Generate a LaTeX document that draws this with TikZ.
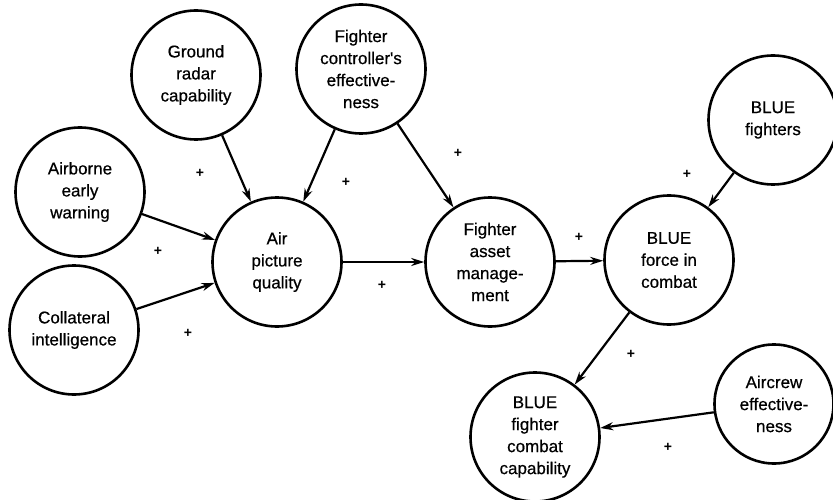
\documentclass[tikz,border=0pt]{standalone}
\usepackage{fontspec}
\setmainfont{Liberation Sans}
\newfontfamily\factorfont[FakeBold=0.6]{Liberation Sans}
\usetikzlibrary{arrows.meta}
\begin{document}
\begin{tikzpicture}[x=1pt,y=-1pt,
    factor/.style={draw,circle,line width=2.6pt,minimum size=129pt,inner sep=0pt,align=center,font=\factorfont\fontsize{17}{22}\selectfont},
    link/.style={line width=2.2pt,-{Stealth[length=13pt,width=8pt]}},
    sign/.style={inner sep=0pt,font=\fontsize{14}{14}\selectfont\bfseries}]

            \useasboundingbox (0,0) rectangle (833,500);

            \node[factor] (radar) at (196,75) {Ground\\radar\\capability};
            \node[factor] (controller) at (361,69) {Fighter\\controller's\\effective-\\ness};
            \node[factor] (aew) at (80,192) {Airborne\\early\\warning};
            \node[factor] (collateral) at (74,330) {Collateral\\intelligence};
            \node[factor] (picture) at (277,262) {Air\\picture\\quality};
            \node[factor] (asset) at (490,262) {Fighter\\asset\\manage-\\ment};
            \node[factor] (force) at (669,260) {BLUE\\force in\\combat};
            \node[factor] (fighters) at (773,120) {BLUE\\fighters};
            \node[factor] (capability) at (535,437) {BLUE\\fighter\\combat\\capability};
            \node[factor,minimum size=119pt] (aircrew) at (774,404) {Aircrew\\effective-\\ness};

            \draw[link] (radar) -- (picture);
            \draw[link] (controller) -- (picture);
            \draw[link] (controller) -- (asset);
            \draw[link] (aew) -- (picture);
            \draw[link] (collateral) -- (picture);
            \draw[link] (picture) -- (asset);
            \draw[link] (asset) -- (force);
            \draw[link] (fighters) -- (force);
            \draw[link] (force) -- (capability);
            \draw[link] (aircrew) -- (capability);

            \node[sign] (p1) at (200,173) {+};
            \node[sign] (p2) at (346,182) {+};
            \node[sign] (p3) at (458,153) {+};
            \node[sign] (p4) at (158,251) {+};
            \node[sign] (p5) at (188,333) {+};
            \node[sign] (p6) at (382,285) {+};
            \node[sign] (p7) at (579,237) {+};
            \node[sign] (p8) at (687,174) {+};
            \node[sign] (p9) at (631,354) {+};
            \node[sign] (p10) at (668,447) {+};

        \end{tikzpicture}
\end{document}
